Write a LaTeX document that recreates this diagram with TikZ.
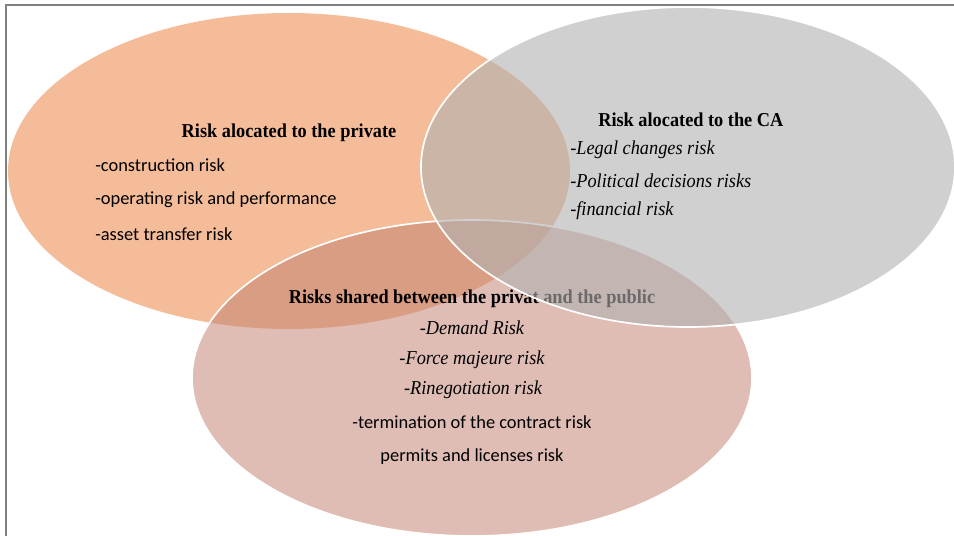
\documentclass[tikz,border=0pt]{standalone}
\usepackage{fontspec}
\setmainfont{Liberation Serif}[FakeStretch=0.93]
\newfontfamily\calibrifont{Carlito}
\definecolor{privorange}{RGB}{244,188,153}
\definecolor{sharedrose}{RGB}{194,130,115}
\definecolor{cagray}{RGB}{177,177,177}
\definecolor{framegray}{RGB}{128,128,128}
\tikzset{
    heading/.style={inner sep=0pt, font=\bfseries\fontsize{14}{16}\selectfont},
    plainitem/.style={inner sep=0pt, font=\calibrifont\fontsize{13.1}{16}\selectfont},
    italicitem/.style={inner sep=0pt, font=\itshape\fontsize{14}{16}\selectfont},
}
\begin{document}
\begin{tikzpicture}[x=0.025cm, y=-0.025cm]
    \useasboundingbox (0,0) rectangle (954,536);

    % frame (only top and left edges show)
    \draw[framegray, line width=1.4pt] (6,536) -- (6,5) -- (954,5);

    % risk allocated to the private
    \fill[privorange] (289,171) ellipse (281 and 158);
    \node[heading] (privtitle) at (289,133) {Risk alocated to the private};
    \node[plainitem, anchor=west] (privconstr) at (95,165) {-construction risk};
    \node[plainitem, anchor=west] (privoper) at (95,200) {-operating risk and performance};
    \node[plainitem, anchor=west] (privasset) at (95,234) {-asset transfer risk};

    % risks shared
    \fill[sharedrose, fill opacity=0.53] (472,378) ellipse (280 and 158);
    \draw[white, line width=1.2pt] (472,378) ellipse (280 and 158);
    \node[heading] (sharetitle) at (472,299) {Risks shared between the privat and the public};
    \node[italicitem] (sharedemand) at (472,328) {-Demand Risk};
    \node[italicitem] (shareforce) at (472,360) {-Force majeure risk};
    \node[italicitem] (sharerineg) at (473,390) {-Rinegotiation risk};
    \node[plainitem] (shareterm) at (472,422) {-termination of the contract risk};
    \node[plainitem] (sharepermit) at (472,457) {permits and licenses risk};

    % risk allocated to the CA
    \fill[cagray, fill opacity=0.6] (688,167) ellipse (267 and 160);
    \draw[white, line width=1.2pt] (688,167) ellipse (267 and 160);
    \node[heading, anchor=west] (catitle) at (598,120) {Risk alocated to the CA};
    \node[italicitem, anchor=west] (calegal) at (570,150) {-Legal changes risk};
    \node[italicitem, anchor=west] (capolit) at (570,181) {-Political decisions risks};
    \node[italicitem, anchor=west] (cafinan) at (570,211) {-financial risk};
\end{tikzpicture}
\end{document}
